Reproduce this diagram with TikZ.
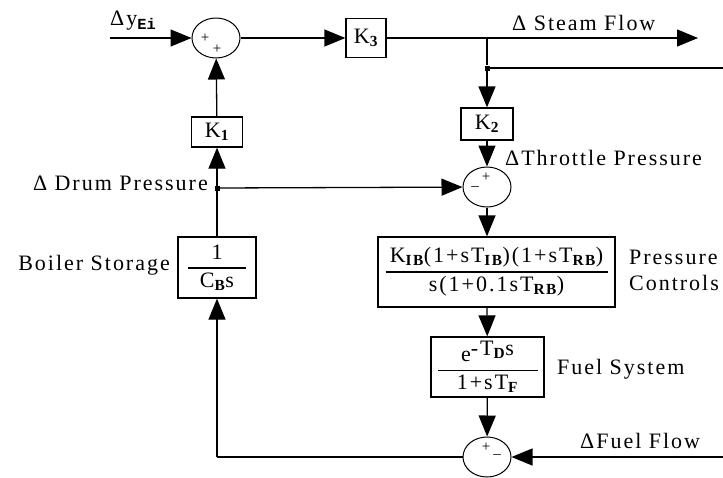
\documentclass[tikz,border=0pt]{standalone}
\usepackage{fontspec}
\setmainfont{Liberation Serif}[LetterSpace=9]
\setmonofont{Liberation Mono}
\usepackage{amsmath}
\usetikzlibrary{arrows.meta,shapes.geometric,positioning}

\newcommand{\blockfrac}[3]{$\genfrac{}{}{1.3pt}{0}{\hbox to #1{\hfil#2\hfil}}{\hbox{#3}}$}
\newcommand{\blksub}[1]{\textsubscript{\bfseries #1}}

\begin{document}
\begin{tikzpicture}[x=1pt, y=-1pt,
    font=\fontsize{22}{26}\selectfont,
    block/.style={draw, line width=1.3pt, inner sep=0pt, align=center},
    sumnode/.style={ellipse, draw, line width=1pt, minimum width=48pt, minimum height=40pt, inner sep=0pt},
    sig/.style={-{Triangle[length=21pt,width=17pt]}, line width=1.3pt},
    wire/.style={line width=1.3pt},
    sign/.style={font=\fontsize{15}{15}\selectfont, inner sep=0pt},
    lbl/.style={inner sep=0pt},
    tapdot/.style={fill, inner sep=0pt, minimum size=5pt}
]
\useasboundingbox (0,0) rectangle (723,477);

% Summing points
\node[sumnode] (sumtop) at (216,38) {};
\node[sumnode] (sumthr) at (487,187) {};
\node[sumnode] (sumfuel) at (487,457) {};

% Blocks
\node[block, minimum width=40pt, minimum height=39pt] (kthree) at (366,38) {K\blksub{3}};
\node[block, minimum width=51pt, minimum height=30pt] (kone) at (217,132) {K\blksub{1}};
\node[block, minimum width=52pt, minimum height=32pt] (ktwo) at (487,124) {K\blksub{2}};
\node[block, minimum width=237pt, minimum height=70pt] (presctrl) at (496.5,272)
    {\blockfrac{222pt}{K\blksub{IB}(1+sT\blksub{IB})(1+sT\blksub{RB})}{s(1+0.1sT\blksub{RB})}};
\node[block, minimum width=113pt, minimum height=60pt] (fuelsys) at (487.5,367)
    {\blockfrac{100pt}{e\raisebox{6pt}{-T\blksub{D}s}}{1+sT\blksub{F}}};
\node[block, minimum width=78pt, minimum height=61pt] (boiler) at (217,267.5)
    {\blockfrac{58pt}{1}{C\blksub{B}s}};

% Take-off points and free ends
\node[tapdot] (tap) at (487,68) {};
\node[tapdot] (drum) at (217,188) {};
\coordinate (yin) at (110,38);
\coordinate (steamout) at (698,38);
\coordinate (tapout) at (723,68);
\coordinate (fuelin) at (723,457);
\coordinate (corner) at (217,457);

% Signal lines
\draw[sig] (yin) -- (sumtop);
\draw[sig] (sumtop) -- (kthree);
\draw[sig] (kthree) -- (steamout);
\draw[wire] (tap |- kthree) -- (tap);
\draw[wire] (tap) -- (tapout);
\draw[sig] (tap) -- (ktwo);
\draw[sig] (ktwo) -- (sumthr);
\draw[sig] (drum) -- (sumthr);
\draw[sig] (sumthr) -- (sumthr |- presctrl.north);
\draw[sig] (sumthr |- presctrl.south) -- (fuelsys);
\draw[sig] (fuelsys) -- (sumfuel);
\draw[sig] (fuelin) -- (sumfuel);
\draw[wire] (sumfuel) -- (corner);
\draw[sig] (corner) -- (boiler);
\draw[sig] (boiler) -- (kone);
\draw[sig] (kone) -- (sumtop);

% Signs
\node[sign] (sgna) at (205,38) {+};
\node[sign] (sgnb) at (217,49) {+};
\node[sign] (sgnc) at (486,177) {+};
\node[sign] (sgnd) at (475,189) {–};
\node[sign] (sgne) at (486,447) {+};
\node[sign] (sgnf) at (497,457) {–};

% Labels
\node[lbl, anchor=west] (yinlbl) at (110,21) {Δy\textsubscript{\texttt{\bfseries Ei}}};
\node[lbl, anchor=west] (steamlbl) at (512,23) {Δ Steam Flow};
\node[lbl, anchor=west] (thrlbl) at (505,158) {ΔThrottle Pressure};
\node[lbl, anchor=east] (drumlbl) at (208,183) {Δ Drum Pressure};
\node[lbl, anchor=east] (boilerlbl) at (170,265) {Boiler Storage};
\node[lbl, anchor=west, align=left] (preslbl) at (629,270) {Pressure\\Controls};
\node[lbl, anchor=west] (fuellbl) at (557,369) {Fuel System};
\node[lbl, anchor=west] (flowlbl) at (580,441) {ΔFuel Flow};

\end{tikzpicture}
\end{document}
